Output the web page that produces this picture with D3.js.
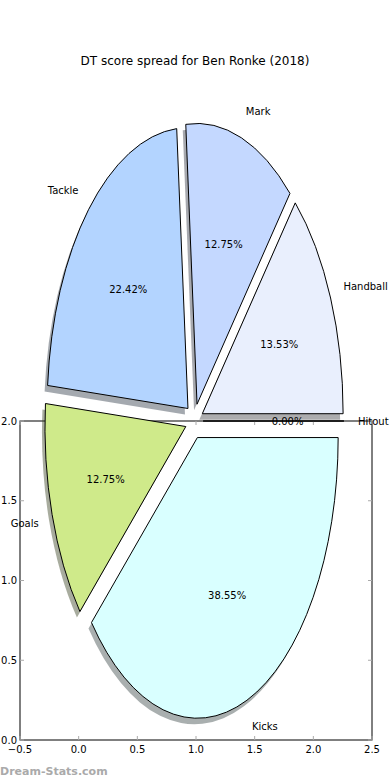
<!DOCTYPE html>
<html>
<head>
<meta charset="utf-8">
<script src="https://cdn.jsdelivr.net/npm/d3@7"></script>
<style>
  body { margin: 0; background: #fff; }
  svg { display: block; font-family: "DejaVu Sans", sans-serif; }
</style>
</head>
<body>
<svg id="chart" width="390" height="780"></svg>
<script>
(function() {

    // data
    var categories = ["Handball", "Mark", "Tackle", "Goals", "Kicks", "Hitout"];
    var values = [13.53, 12.75, 22.42, 12.75, 38.55, 0.00];
    var colours = ["#e9effd", "#c4d8ff", "#b3d4ff", "#cfea8a", "#d9ffff", "#f0f0f0"];
    var xTicks = [-0.5, 0.0, 0.5, 1.0, 1.5, 2.0, 2.5];
    var yTicks = [0.0, 0.5, 1.0, 1.5, 2.0];
    var title = "DT score spread for Ben Ronke (2018)";

    var svg = d3.select("#chart"),
        explode = 0.063;

    var x = d3.scaleLinear().domain([-0.5, 2.5]).range([20, 372]),
        y = d3.scaleLinear().domain([0, 2]).range([740, 421]);

    // pie centre and radii (ellipse, the axes are not equal aspect)
    var cx = x(0.985), cy = y(2.0),
        rx = x(1.2) - x(0),
        ry = y(0) - y(1.76);

    // frame
    var frame = svg.append("g");
    frame.append("rect")
        .attr("x", x(-0.5)).attr("y", y(2))
        .attr("width", x(2.5) - x(-0.5)).attr("height", y(0) - y(2))
        .attr("fill", "none").attr("stroke", "#000").attr("stroke-width", 1);

    xTicks.forEach(function(t) {
        frame.append("line").attr("x1", x(t)).attr("x2", x(t)).attr("y1", y(0)).attr("y2", y(0) - 4)
            .attr("stroke", "#aaa");
        frame.append("line").attr("x1", x(t)).attr("x2", x(t)).attr("y1", y(2)).attr("y2", y(2) + 4)
            .attr("stroke", "#aaa");
        frame.append("text").attr("x", x(t)).attr("y", y(0) + 13)
            .attr("text-anchor", "middle").attr("font-size", 10)
            .text(d3.format(".1f")(t).replace("-", "\u2212"));
    });
    yTicks.forEach(function(t) {
        frame.append("line").attr("x1", x(-0.5)).attr("x2", x(-0.5) + 4).attr("y1", y(t)).attr("y2", y(t))
            .attr("stroke", "#aaa");
        frame.append("line").attr("x1", x(2.5)).attr("x2", x(2.5) - 4).attr("y1", y(t)).attr("y2", y(t))
            .attr("stroke", "#aaa");
        frame.append("text").attr("x", x(-0.5) - 3).attr("y", y(t) + 3.5)
            .attr("text-anchor", "end").attr("font-size", 10)
            .text(d3.format(".1f")(t));
    });

    // counter-clockwise from 3 o'clock, like matplotlib
    var pie = d3.pie().sort(null).value(function(d) { return d; })
        .startAngle(Math.PI / 2).endAngle(Math.PI / 2 - 2 * Math.PI);
    var arcs = pie(values);
    var arc = d3.arc().innerRadius(0).outerRadius(1);

    function mid(d) { return (d.startAngle + d.endAngle) / 2; }
    function pos(d, k) {
        var a = mid(d);
        return [cx + k * rx * Math.sin(a), cy - k * ry * Math.cos(a)];
    }

    var shadows = svg.append("g"),
        wedges = svg.append("g");

    arcs.forEach(function(d, i) {
        var o = pos(d, explode);
        var c = d3.rgb(colours[i]);
        shadows.append("path")
            .attr("d", arc(d))
            .attr("transform", "translate(" + (o[0] - 3) + "," + (o[1] + 6) + ") scale(" + rx + "," + ry + ")")
            .attr("fill", d3.rgb(c.r * 0.3, c.g * 0.3, c.b * 0.3))
            .attr("fill-opacity", 0.45);
    });

    arcs.forEach(function(d, i) {
        var o = pos(d, explode);
        wedges.append("path")
            .attr("d", arc(d))
            .attr("transform", "translate(" + o[0] + "," + o[1] + ") scale(" + rx + "," + ry + ")")
            .attr("fill", colours[i])
            .attr("stroke", "#000")
            .attr("stroke-width", 1)
            .attr("vector-effect", "non-scaling-stroke")
            .attr("stroke-linejoin", "round");
    });

    var texts = svg.append("g").attr("font-size", 10).attr("fill", "#000");
    arcs.forEach(function(d, i) {
        var p = pos(d, 1.1 + explode);
        texts.append("text")
            .attr("x", p[0]).attr("y", p[1] + 3.5)
            .attr("text-anchor", Math.sin(mid(d)) > 0 ? "start" : "end")
            .text(categories[i]);
        var q = pos(d, 0.6 + explode);
        texts.append("text")
            .attr("x", q[0]).attr("y", q[1] + 3.5)
            .attr("text-anchor", "middle")
            .text(d3.format(".2f")(values[i]) + "%");
    });

    svg.append("text")
        .attr("x", 195).attr("y", 65)
        .attr("text-anchor", "middle").attr("font-size", 12)
        .text(title);

    svg.append("text")
        .attr("x", 0).attr("y", 775)
        .attr("font-size", 11).attr("font-weight", "bold").attr("fill", "#aaa")
        .text("Dream-Stats.com");
})();
</script>
</body>
</html>
